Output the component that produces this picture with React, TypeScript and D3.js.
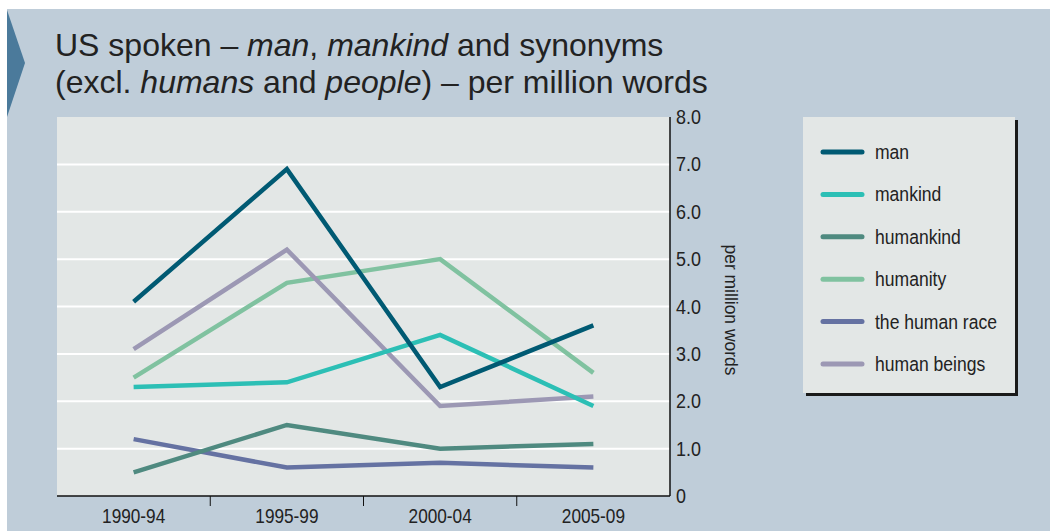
import { useEffect, useRef } from "react";
import * as d3 from "d3";

const periods = ["1990-94", "1995-99", "2000-04", "2005-09"];
const yTicks = [0, 1, 2, 3, 4, 5, 6, 7, 8];

const seriesNames = ["man", "mankind", "humankind", "humanity", "the human race", "human beings"];
const manValues = [4.1, 6.9, 2.3, 3.6];
const mankindValues = [2.3, 2.4, 3.4, 1.9];
const humankindValues = [0.5, 1.5, 1.0, 1.1];
const humanityValues = [2.5, 4.5, 5.0, 2.6];
const humanRaceValues = [1.2, 0.6, 0.7, 0.6];
const humanBeingsValues = [3.1, 5.2, 1.9, 2.1];

const colors = ["#005a73", "#2cbfb5", "#4f8a80", "#80c2a0", "#6572a2", "#9c98b4"];

const sans = "'Liberation Sans', Arial, Helvetica, sans-serif";

export default function App() {
  const svgRef = useRef<SVGSVGElement>(null);

  useEffect(() => {
    if (!svgRef.current) return;
    const svg = d3.select(svgRef.current);
    svg.selectAll("*").remove();

    const W = 1050;
    const H = 531;

    // background
    svg.append("rect").attr("width", W).attr("height", H).attr("fill", "#ffffff");
    svg.append("rect").attr("x", 7).attr("y", 9).attr("width", W - 7).attr("height", H - 9).attr("fill", "#bfcdd9");
    svg.append("path").attr("d", "M7,10 L25,63 L7,117 Z").attr("fill", "#4b7a9b");

    // title
    const title = svg.append("text").attr("font-family", sans).attr("font-size", 32).attr("fill", "#222");
    const l1 = title.append("tspan").attr("x", 55).attr("y", 56);
    l1.append("tspan").text("US spoken – ");
    l1.append("tspan").attr("font-style", "italic").text("man");
    l1.append("tspan").text(", ");
    l1.append("tspan").attr("font-style", "italic").text("mankind");
    l1.append("tspan").text(" and synonyms");
    const l2 = title.append("tspan").attr("x", 55).attr("y", 93);
    l2.append("tspan").text("(excl. ");
    l2.append("tspan").attr("font-style", "italic").text("humans");
    l2.append("tspan").text(" and ");
    l2.append("tspan").attr("font-style", "italic").text("people");
    l2.append("tspan").text(") – per million words");

    // plot area
    const left = 57, right = 670, top = 117, bottom = 496;
    const x = d3.scaleBand().domain(periods).range([left, right]);
    const y = d3.scaleLinear().domain([0, 8]).range([bottom, top]);

    svg.append("rect").attr("x", left).attr("y", top).attr("width", right - left).attr("height", bottom - top).attr("fill", "#e3e7e6");

    // grid
    svg.append("g")
      .selectAll("line")
      .data(yTicks.filter((t) => t > 0 && t < 8))
      .join("line")
      .attr("x1", left)
      .attr("x2", right)
      .attr("y1", (d) => y(d))
      .attr("y2", (d) => y(d))
      .attr("stroke", "#ffffff")
      .attr("stroke-width", 2);

    // series
    const allValues = [manValues, mankindValues, humankindValues, humanityValues, humanRaceValues, humanBeingsValues];
    const line = d3
      .line<number>()
      .x((_, i) => (x(periods[i]) || 0) + x.bandwidth() / 2)
      .y((d) => y(d));

    // back-to-front order
    const order = [4, 2, 3, 5, 1, 0];
    svg.append("g")
      .selectAll("path")
      .data(order)
      .join("path")
      .attr("d", (i) => line(allValues[i]))
      .attr("fill", "none")
      .attr("stroke", (i) => colors[i])
      .attr("stroke-width", 4.5)
      .attr("stroke-linejoin", "miter")
      .attr("stroke-linecap", "butt");

    // right y axis (narrow-looking labels via scaleX)
    svg.append("line").attr("x1", right).attr("x2", right).attr("y1", top).attr("y2", bottom).attr("stroke", "#111").attr("stroke-width", 1.5);
    svg.append("g")
      .selectAll("text")
      .data(yTicks)
      .join("text")
      .attr("transform", (d) => `translate(676,${y(d) + 7}) scale(0.92,1)`)
      .attr("font-family", sans)
      .attr("font-size", 19.5)
      .attr("fill", "#222")
      .text((d) => (d === 0 ? "0" : d3.format(".1f")(d)));

    svg.append("text")
      .attr("transform", `translate(725,310) rotate(90) scale(0.92,1)`)
      .attr("text-anchor", "middle")
      .attr("font-family", sans)
      .attr("font-size", 19)
      .attr("fill", "#222")
      .text("per million words");

    // bottom x axis
    svg.append("line").attr("x1", left).attr("x2", right).attr("y1", bottom).attr("y2", bottom).attr("stroke", "#111").attr("stroke-width", 1.5);
    svg.append("g")
      .selectAll("line")
      .data(periods.slice(1))
      .join("line")
      .attr("x1", (d) => x(d) || 0)
      .attr("x2", (d) => x(d) || 0)
      .attr("y1", bottom)
      .attr("y2", bottom + 10)
      .attr("stroke", "#111")
      .attr("stroke-width", 1);
    svg.append("g")
      .selectAll("text")
      .data(periods)
      .join("text")
      .attr("transform", (d) => `translate(${(x(d) || 0) + x.bandwidth() / 2},523) scale(0.82,1)`)
      .attr("text-anchor", "middle")
      .attr("font-family", sans)
      .attr("font-size", 21)
      .attr("fill", "#222")
      .text((d) => d);

    // legend
    const lg = svg.append("g");
    lg.append("rect").attr("x", 806).attr("y", 120).attr("width", 212).attr("height", 276).attr("fill", "#1a1a1a");
    lg.append("rect").attr("x", 803).attr("y", 117).attr("width", 212).attr("height", 276).attr("fill", "#e3e7e6");
    const ly = d3.scalePoint().domain(seriesNames).range([152, 364]);
    const items = lg.selectAll("g.item").data(seriesNames).join("g").attr("class", "item");
    items.append("line")
      .attr("x1", 823)
      .attr("x2", 862)
      .attr("y1", (d) => ly(d) || 0)
      .attr("y2", (d) => ly(d) || 0)
      .attr("stroke", (_, i) => colors[i])
      .attr("stroke-width", 5)
      .attr("stroke-linecap", "round");
    items.append("text")
      .attr("transform", (d) => `translate(875,${(ly(d) || 0) + 7}) scale(0.9,1)`)
      .attr("font-family", sans)
      .attr("font-size", 19.5)
      .attr("fill", "#222")
      .text((d) => d);
  }, []);

  return (
    <svg
      ref={svgRef}
      width={1050}
      height={531}
      style={{ position: "absolute", left: 0, top: 0, display: "block" }}
    />
  );
}
